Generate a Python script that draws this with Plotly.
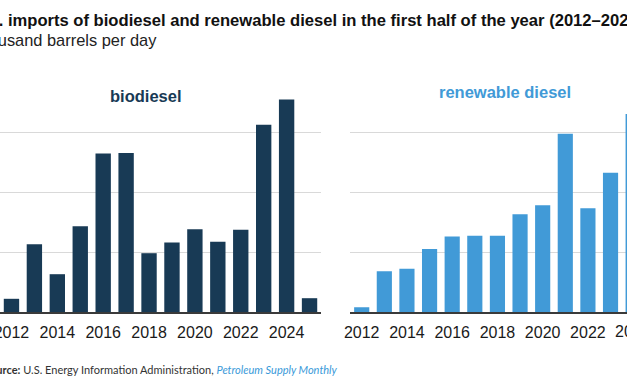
import plotly.graph_objects as go

# ---- data (thousand barrels per day, first half of each year) ----
years = list(range(2012, 2026))
biodiesel = [2.2, 11.3, 6.3, 14.3, 26.4, 26.5, 9.8, 11.6, 13.8, 11.7, 13.7, 31.2, 35.4, 2.3]
renewable_years = list(range(2012, 2025))
renewable_diesel = [0.8, 6.8, 7.2, 10.5, 12.6, 12.7, 12.7, 16.3, 17.8, 29.7, 17.3, 23.2, 33.0]
tick_years = [2012, 2014, 2016, 2018, 2020, 2022, 2024]
tick_labels = [str(y) for y in tick_years]

title_text = "U.S. imports of biodiesel and renewable diesel in the first half of the year (2012\u20132025)"
subtitle_text = "thousand barrels per day"
source_text = "Source:"
source_rest = "U.S. Energy Information Administration,"
source_pub = "Petroleum Supply Monthly"

# ---- styling ----
W, H = 627, 376
ML, MR, MT, MB = 0, 0, 72, 64
BIO_COLOR = "#183a55"
RD_COLOR = "#419ad7"
FONT = "Liberation Sans, Arial, sans-serif"

left_domain = [0.0, 321 / W]
right_domain = [350.4 / W, 1.0]
left_range = [2011.5, 2025.5]
right_range = [2011.5, 2011.5 + (W - 350.4) / 22.62]

fig = go.Figure()
fig.add_trace(go.Bar(x=years, y=biodiesel, marker=dict(color=BIO_COLOR, line=dict(width=0)),
                     xaxis="x", yaxis="y", showlegend=False, hoverinfo="x+y"))
fig.add_trace(go.Bar(x=renewable_years, y=renewable_diesel, marker=dict(color=RD_COLOR, line=dict(width=0)),
                     xaxis="x2", yaxis="y2", showlegend=False, hoverinfo="x+y"))

xcommon = dict(tickmode="array", tickvals=tick_years, ticktext=tick_labels,
               showgrid=False, zeroline=False, showline=True, linecolor="#3a3a3a", linewidth=2,
               ticks="", ticklabelstandoff=5, ticklabeloverflow="allow", automargin=False,
               tickfont=dict(family=FONT, size=16, color="#1a1a1a"), fixedrange=True)
ycommon = dict(range=[0, 40], dtick=10, showgrid=True, gridcolor="#d9d9d9", gridwidth=1,
               zeroline=False, showticklabels=False, ticks="", showline=False,
               automargin=False, fixedrange=True)

fig.update_layout(
    width=W, height=H,
    margin=dict(l=ML, r=MR, t=MT, b=MB, autoexpand=False),
    paper_bgcolor="white", plot_bgcolor="white",
    bargap=0.33,
    xaxis=dict(domain=left_domain, range=left_range, anchor="y", **xcommon),
    yaxis=dict(domain=[0, 1], anchor="x", **ycommon),
    xaxis2=dict(domain=right_domain, range=right_range, anchor="y2", **xcommon),
    yaxis2=dict(domain=[0, 1], anchor="x2", **ycommon),
)

PW = W - ML - MR
PH = H - MT - MB
def px_x(px):
    return (px - ML) / PW
def px_y(py):
    return (H - MB - py) / PH

# tick label of the right panel that falls past the visible range (cut by the frame)
frac = (tick_years[-1] - right_range[0]) / (right_range[1] - right_range[0])
x_2024 = right_domain[0] + frac * (right_domain[1] - right_domain[0])

annotations = [
    dict(text="<b>" + title_text + "</b>", x=px_x(-31), y=px_y(20), xref="paper", yref="paper",
         xanchor="left", yanchor="middle", showarrow=False,
         font=dict(family=FONT, size=16.6, color="#111111")),
    dict(text=subtitle_text, x=px_x(-27), y=px_y(40), xref="paper", yref="paper",
         xanchor="left", yanchor="middle", showarrow=False,
         font=dict(family=FONT, size=16.4, color="#222222")),
    dict(text="<b>biodiesel</b>", x=px_x(146), y=px_y(96), xref="paper", yref="paper",
         xanchor="center", yanchor="middle", showarrow=False,
         font=dict(family=FONT, size=16.5, color=BIO_COLOR)),
    dict(text="<b>renewable diesel</b>", x=px_x(505), y=px_y(92), xref="paper", yref="paper",
         xanchor="center", yanchor="middle", showarrow=False,
         font=dict(family=FONT, size=16.5, color=RD_COLOR)),
    dict(text=tick_labels[-1], x=x_2024, y=px_y(331), xref="paper", yref="paper",
         xanchor="center", yanchor="middle", showarrow=False,
         font=dict(family=FONT, size=16, color="#1a1a1a")),
    dict(text="<b>" + source_text + "</b> " + source_rest + " <i><span style='color:#3a9ad9'>" + source_pub + "</span></i>",
         x=px_x(-18), y=px_y(369), xref="paper", yref="paper",
         xanchor="left", yanchor="middle", showarrow=False,
         font=dict(family="Lato, sans-serif", size=11, color="#333333")),
]
fig.update_layout(annotations=annotations)

fig.write_html("out.html", config={"displayModeBar": False},
               post_script="document.body.style.margin='0';document.body.style.overflow='hidden';")
